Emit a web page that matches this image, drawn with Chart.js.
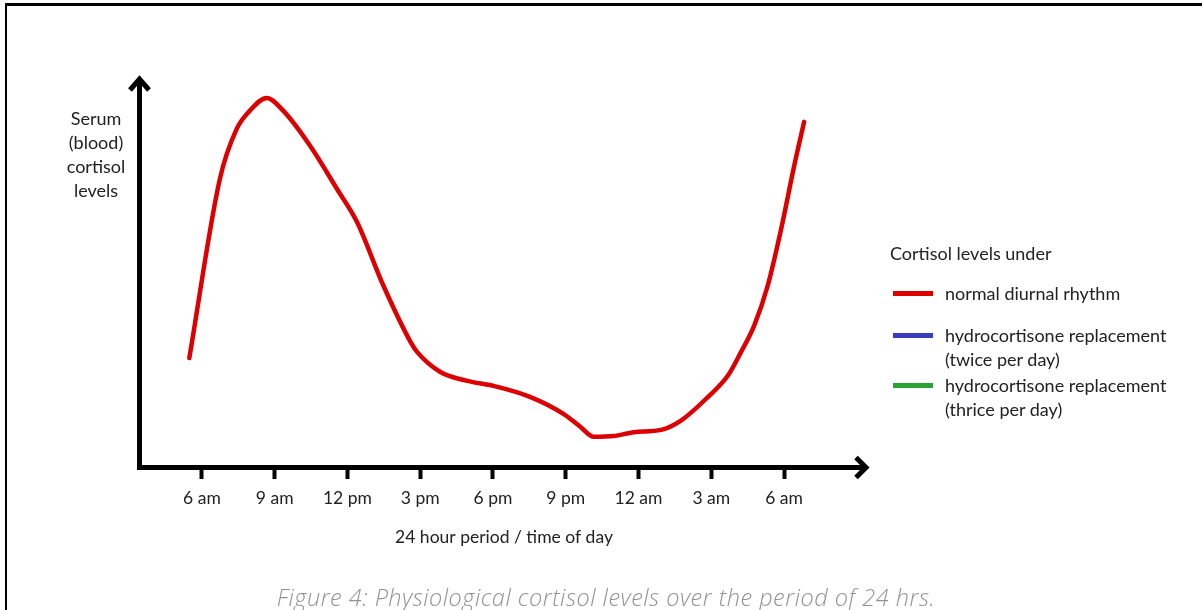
<!DOCTYPE html>
<html>
<head>
<meta charset="utf-8">
<script src="https://cdn.jsdelivr.net/npm/chart.js@4.4.0/dist/chart.umd.min.js"></script>
<style>
  body { margin: 0; background: #fff; }
  #wrap { position: relative; width: 1202px; height: 610px; overflow: hidden; font-family: Lato, "Noto Sans", sans-serif; color: #222; }
  #frame { position: absolute; left: 5px; top: 3px; right: -10px; bottom: -10px; border-top: 3px solid #000; border-left: 2.5px solid #000; }
  #myChart { position: absolute; left: 0; top: 0; }
  #ylabel { position: absolute; left: 46px; top: 106px; width: 100px; text-align: center; font-size: 18px; line-height: 24px; }
  #legend { position: absolute; left: 890px; top: 241px; font-size: 18px; line-height: 24px; }
  #legend .item { position: relative; padding-left: 55px; }
  #legend .sw { position: absolute; left: 3px; top: 10px; width: 40px; height: 5px; }
  #caption { position: absolute; left: 0; width: 1212px; top: 581px; text-align: center; font-style: italic; font-weight: 300; font-size: 23.5px; letter-spacing: 0.5px; color: #929292; font-family: "Open Sans", sans-serif; }
</style>
</head>
<body>
<div id="wrap">
  <div id="frame"></div>
  <canvas id="myChart" width="1202" height="610"></canvas>
  <div id="ylabel">Serum<br>(blood)<br>cortisol<br>levels</div>
  <div id="legend"></div>
  <div id="caption">Figure 4: Physiological cortisol levels over the period of 24 hrs.</div>
</div>
<script>
// hours of the day (6 = 6 am, 24 = midnight, 30 = 6 am next day)
var hours = [5.48, 6.74, 7.43, 7.98, 8.67, 9.35, 10.46, 11.57, 12.39, 13.48, 14.6, 14.87, 15.83, 16.94, 18.02,
             19.55, 20.92, 21.62, 22.16, 22.98, 23.81, 24.93, 25.75, 26.86, 27.68, 28.23, 28.77, 29.33, 29.88, 30.42, 30.83];
var normalRhythm = [27.7, 74.1, 87.0, 91.8, 95.1, 91.8, 82.7, 71.5, 63.0, 46.5, 31.9, 29.3, 24.1, 21.8, 20.5,
                    17.6, 13.2, 9.8, 7.3, 7.5, 8.5, 9.1, 11.5, 17.6, 23.1, 29.3, 36.1, 46.5, 61.1, 77.5, 88.9];
var twiceDaily = [];
var thriceDaily = [];
var tickHours = [6, 9, 12, 15, 18, 21, 24, 27, 30];
var tickLabels = ['6 am', '9 am', '12 pm', '3 pm', '6 pm', '9 pm', '12 am', '3 am', '6 am'];
var seriesNames = [['normal diurnal rhythm'], ['hydrocortisone replacement', '(twice per day)'], ['hydrocortisone replacement', '(thrice per day)']];
var seriesColors = ['#dd0000', '#3b3bbd', '#2aa336'];

function pts(vals) {
  return vals.map(function(v, i) { return {x: hours[i], y: v}; });
}

// axis lines with open arrow heads
var arrows = {
  id: 'arrows',
  afterDraw: function(chart) {
    var ctx = chart.ctx;
    var a = chart.chartArea;
    var x0 = a.left - 2.5, y0 = a.bottom + 2.5;
    ctx.save();
    ctx.strokeStyle = '#000';
    ctx.lineWidth = 5;
    ctx.lineJoin = 'miter';
    ctx.beginPath();
    ctx.moveTo(x0, a.top - 1);
    ctx.lineTo(x0, y0);
    ctx.lineTo(a.right + 1, y0);
    ctx.stroke();
    ctx.beginPath();
    ctx.moveTo(x0 - 9.5, a.top + 11);
    ctx.lineTo(x0, a.top);
    ctx.lineTo(x0 + 9.5, a.top + 11);
    ctx.stroke();
    ctx.beginPath();
    ctx.moveTo(a.right - 10, y0 - 10);
    ctx.lineTo(a.right, y0);
    ctx.lineTo(a.right - 10, y0 + 10);
    ctx.stroke();
    ctx.restore();
  }
};

var canvas = document.getElementById('myChart');
var chart = new Chart(canvas.getContext('2d'), {
  type: 'line',
  data: {
    datasets: [
      { label: seriesNames[0], data: pts(normalRhythm), borderColor: seriesColors[0], backgroundColor: seriesColors[0] },
      { label: seriesNames[1], data: twiceDaily, borderColor: seriesColors[1], backgroundColor: seriesColors[1] },
      { label: seriesNames[2], data: thriceDaily, borderColor: seriesColors[2], backgroundColor: seriesColors[2] }
    ]
  },
  options: {
    responsive: false,
    animation: false,
    layout: { padding: { left: 142, right: 336, top: 79, bottom: 0 } },
    elements: {
      line: { borderWidth: 4.5, cubicInterpolationMode: 'monotone', borderCapStyle: 'round' },
      point: { radius: 0 }
    },
    plugins: { legend: { display: false }, tooltip: { enabled: false } },
    scales: {
      x: {
        type: 'linear',
        min: 3.53,
        max: 33.38,
        afterFit: function(scale) { scale.height = 145; },
        afterBuildTicks: function(scale) {
          scale.ticks = tickHours.map(function(h) { return {value: h}; });
        },
        border: { display: false },
        grid: { drawOnChartArea: false, drawTicks: true, tickLength: 14, tickWidth: 4, color: '#000' },
        ticks: {
          autoSkip: false,
          maxRotation: 0,
          padding: 9,
          color: '#222',
          font: { family: 'Lato', size: 17.5 },
          callback: function(v, i) { return tickLabels[i]; }
        },
        title: {
          display: true,
          text: '24 hour period / time of day',
          color: '#222',
          font: { family: 'Lato', size: 17.5 },
          padding: { top: 0, bottom: 62 }
        }
      },
      y: { display: false, min: 0, max: 100 }
    }
  },
  plugins: [arrows]
});

// legend from the chart's own legend items
var items = Chart.defaults.plugins.legend.labels.generateLabels(chart);
var html = '<div style="margin-bottom:16px">Cortisol levels under</div>';
items.forEach(function(it, i) {
  var txt = [].concat(it.text).join('<br>');
  html += '<div class="item" style="margin-bottom:' + (i === 0 ? 18 : 2) + 'px"><span class="sw" style="background:' + it.strokeStyle + '"></span>' + txt + '</div>';
});
document.getElementById('legend').innerHTML = html;
</script>
</body>
</html>
